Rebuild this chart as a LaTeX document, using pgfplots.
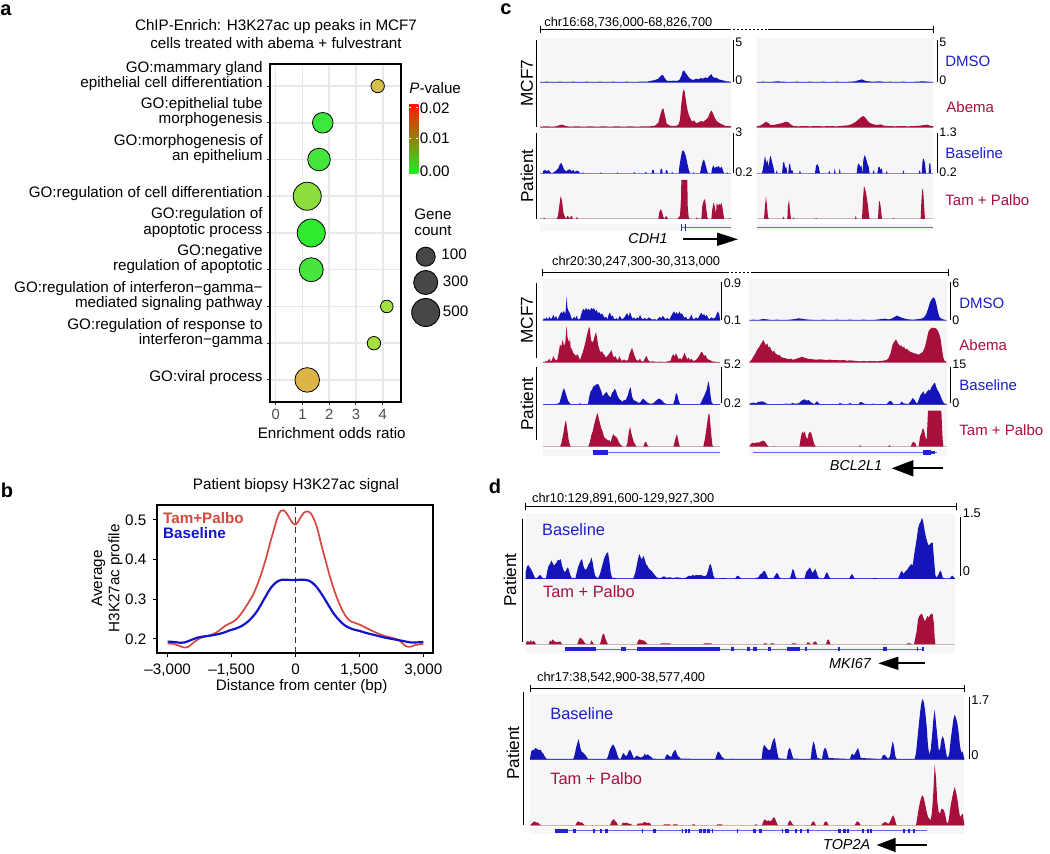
\documentclass[border=0pt]{standalone}
\usepackage{fontspec}
\setmainfont{Liberation Sans}
\usepackage{pgfplots}
\pgfplotsset{compat=1.18}
\usetikzlibrary{arrows.meta}
\definecolor{tblue}{RGB}{20,20,185}
\definecolor{tred}{RGB}{168,16,60}
\definecolor{trackbg}{RGB}{246,246,248}
\definecolor{gblue}{RGB}{35,35,210}
\definecolor{lblue}{RGB}{28,28,200}
\definecolor{bred}{RGB}{214,72,62}
\definecolor{bblue}{RGB}{20,20,205}
\definecolor{cmam}{RGB}{212,192,72}
\definecolor{ctube}{RGB}{60,232,60}
\definecolor{cmorph}{RGB}{68,230,60}
\definecolor{ccdiff}{RGB}{140,222,60}
\definecolor{capop}{RGB}{48,234,48}
\definecolor{cneg}{RGB}{70,230,60}
\definecolor{cifnm}{RGB}{160,226,60}
\definecolor{cresp}{RGB}{165,224,62}
\definecolor{cviral}{RGB}{220,180,72}
\newcommand{\fs}[1]{\fontsize{#1}{#1}\selectfont}
\pgfplotsset{
 trk/.style={anchor=north west, scale only axis, ymin=0, axis line style={draw=none}, xtick=\empty, ytick=\empty, axis background/.style={fill=trackbg}, clip=true},
 gene/.style={anchor=north west, scale only axis, ymin=-1, ymax=1, axis line style={draw=none}, xtick=\empty, ytick=\empty, axis background/.style={fill=trackbg}, clip=false, unbounded coords=jump},
 bfill/.style={fill=tblue, draw=none},
 rfill/.style={fill=tred, draw=none},
 bub/.style={only marks, mark=*, mark size=#1, mark options={draw=black!75, line width=0.45pt}},
}
\begin{document}
\begin{tikzpicture}
\useasboundingbox (0,0) rectangle (525pt,-427pt);

% ================= Panel a =================
\begin{axis}[at={(135pt,-32pt)}, anchor=north west, scale only axis, width=65.5pt, height=169pt,
 xmin=-0.21, xmax=4.68, ymin=0.4, ymax=9.6,
 xtick={0,1,2,3,4}, xticklabels={0,1,2,3,4},
 ytick={1,2,3,4,5,6,7,8,9},
 yticklabels={{GO:viral process},{GO:regulation of response to\\interferon−gamma},{GO:regulation of interferon−gamma−\\mediated signaling pathway},{GO:negative\\regulation of apoptotic},{GO:regulation of\\apoptotic process},{GO:regulation of cell differentiation},{GO:morphogenesis of\\an epithelium},{GO:epithelial tube\\morphogenesis},{GO:mammary gland\\epithelial cell differentiation}},
 grid=major, major grid style={draw=black!9, line width=0.75pt},
 axis line style={line width=1pt},
 tick pos=left, tick align=outside, major tick length=1.5pt, tick style={black!80, line width=0.5pt},
 xticklabel style={font=\fs{7.4pt}, text=black!70, yshift=1.6pt},
 yticklabel style={font=\fs{7.6pt}, align=right, anchor=south east, inner sep=0pt, text depth=1.6pt, yshift=-2.4pt, xshift=-2pt},
]
\addplot[bub=6.15pt, mark options={fill=cviral}] coordinates {(1.18,1)};
\addplot[bub=3.35pt, mark options={fill=cresp}] coordinates {(3.67,2)};
\addplot[bub=3.15pt, mark options={fill=cifnm}] coordinates {(4.15,3)};
\addplot[bub=6pt, mark options={fill=cneg}] coordinates {(1.33,4)};
\addplot[bub=7pt, mark options={fill=capop}] coordinates {(1.33,5)};
\addplot[bub=7pt, mark options={fill=ccdiff}] coordinates {(1.18,6)};
\addplot[bub=5.65pt, mark options={fill=cmorph}] coordinates {(1.62,7)};
\addplot[bub=5.15pt, mark options={fill=ctube}] coordinates {(1.76,8)};
\addplot[bub=3.35pt, mark options={fill=cmam}] coordinates {(3.81,9)};
\end{axis}

% ================= Panel b =================
\begin{axis}[at={(78.65pt,-252.35pt)}, anchor=north west, scale only axis, width=138pt, height=74pt,
 xmin=-3244, xmax=3235, ymin=0.165, ymax=0.538,
 xtick={-3000,-1500,0,1500,3000}, xticklabels={{–3,000},{–1,500},{0},{1,500},{3,000}},
 ytick={0.2,0.3,0.4,0.5}, yticklabels={0.2,0.3,0.4,0.5},
 axis line style={line width=1pt},
 tick pos=left, tick align=outside, major tick length=2pt, tick style={black, line width=0.5pt},
 ticklabel style={font=\fs{7.6pt}},
]
\addplot[black!80, densely dashed, line width=0.4pt] coordinates {(0,0.165)(0,0.538)};
\addplot[bred, line width=0.85pt, smooth] coordinates {(-3000,0.188)(-2850,0.187)(-2700,0.181)(-2600,0.178)(-2500,0.181)(-2400,0.19)(-2250,0.201)(-2100,0.206)(-1950,0.211)(-1800,0.22)(-1650,0.233)(-1500,0.241)(-1400,0.248)(-1300,0.26)(-1200,0.275)(-1100,0.292)(-1000,0.31)(-900,0.335)(-800,0.365)(-700,0.4)(-600,0.44)(-500,0.478)(-420,0.507)(-350,0.522)(-280,0.524)(-200,0.515)(-120,0.5)(-50,0.49)(0,0.488)(60,0.495)(130,0.508)(200,0.518)(280,0.521)(360,0.516)(440,0.5)(520,0.475)(600,0.44)(700,0.4)(800,0.36)(900,0.325)(1000,0.296)(1100,0.272)(1200,0.254)(1300,0.244)(1400,0.24)(1500,0.236)(1650,0.228)(1800,0.22)(1950,0.213)(2100,0.207)(2250,0.203)(2400,0.198)(2500,0.19)(2600,0.181)(2700,0.18)(2800,0.184)(2900,0.186)(3000,0.187)};
\addplot[bblue, line width=1.1pt, smooth] coordinates {(-3000,0.193)(-2850,0.192)(-2700,0.19)(-2600,0.191)(-2450,0.197)(-2300,0.203)(-2150,0.206)(-2000,0.208)(-1850,0.211)(-1700,0.215)(-1550,0.221)(-1400,0.226)(-1250,0.233)(-1100,0.245)(-1000,0.256)(-900,0.27)(-800,0.288)(-700,0.307)(-600,0.325)(-500,0.338)(-400,0.346)(-300,0.349)(-200,0.349)(-100,0.348)(0,0.348)(100,0.349)(200,0.349)(300,0.347)(400,0.341)(500,0.33)(600,0.315)(700,0.298)(800,0.28)(900,0.263)(1000,0.25)(1100,0.239)(1200,0.231)(1350,0.224)(1500,0.22)(1650,0.215)(1800,0.211)(1950,0.207)(2100,0.203)(2250,0.2)(2400,0.197)(2550,0.194)(2700,0.191)(2850,0.191)(3000,0.192)};
\node[anchor=north west, font=\fs{7.6pt}\bfseries, text=bred, inner sep=0pt] at (rel axis cs:0.02,0.95) {Tam+Palbo};
\node[anchor=north west, font=\fs{7.6pt}\bfseries, text=bblue, inner sep=0pt] at (rel axis cs:0.02,0.85) {Baseline};
\end{axis}

% ================= Panel c top tracks =================
\begin{axis}[trk, at={(270pt,-19.17pt)}, width=95.5pt, height=22.17pt, xmin=60, xmax=633, ymax=133]
\addplot[bfill] coordinates {(60,2)(80,3)(100,2)(120,3)(140,2)(160,3)(180,2)(200,3)(220,2)(240,3)(260,2)(280,3)(300,2)(320,3)(340,2)(360,3)(380,3)(395,6)(405,8)(415,12)(422,20)(428,24)(434,14)(440,6)(450,5)(460,6)(470,5)(478,8)(484,20)(488,34)(492,37)(496,30)(502,22)(508,14)(514,10)(520,8)(528,12)(536,10)(542,14)(548,12)(556,16)(562,13)(568,20)(574,26)(578,18)(584,14)(590,15)(596,10)(604,8)(612,6)(620,4)(633,3)} \closedcycle;
\end{axis}
\begin{axis}[trk, at={(270pt,-41.67pt)}, width=95.5pt, height=22.17pt, xmin=60, xmax=633, ymax=133]
\addplot[rfill] coordinates {(60,3)(80,4)(100,3)(112,5)(120,8)(128,9)(136,5)(150,3)(170,4)(190,3)(210,4)(230,3)(250,4)(270,3)(290,4)(310,3)(330,4)(350,3)(370,4)(390,4)(405,6)(415,15)(420,35)(426,55)(430,58)(434,40)(440,12)(450,6)(460,5)(470,6)(476,10)(480,25)(484,70)(488,105)(491,115)(494,108)(498,80)(502,55)(506,40)(510,30)(516,18)(522,22)(528,14)(536,16)(542,20)(550,18)(558,24)(564,30)(570,45)(574,52)(578,45)(584,30)(590,20)(598,14)(606,10)(614,6)(622,5)(633,4)} \closedcycle;
\end{axis}
\begin{axis}[trk, at={(270pt,-64.5pt)}, width=95.5pt, height=22.17pt, xmin=60, xmax=633, ymax=133]
\addplot[tblue!45, line width=0.5pt] coordinates {(60,0)(633,0)};
\addplot[bfill] coordinates {(60,0)(68,0)(70,8)(76,10)(80,6)(86,10)(90,4)(96,0)(108,8)(114,14)(120,28)(124,31)(128,22)(132,12)(138,6)(144,10)(150,12)(154,6)(160,10)(164,4)(170,8)(176,6)(180,0)(190,2)(195,0)(240,0)(242,3)(246,0)(290,0)(292,3)(296,0)(340,0)(342,4)(346,0)(375,0)(377,5)(381,0)(395,0)(397,10)(401,10)(403,0)(420,0)(422,12)(426,14)(428,0)(436,0)(438,10)(442,8)(444,0)(454,0)(456,4)(460,0)(476,0)(478,20)(482,45)(486,66)(490,69)(494,62)(498,50)(502,30)(506,12)(510,0)(518,0)(520,3)(524,0)(540,0)(544,20)(548,36)(552,42)(556,28)(560,12)(564,0)(574,0)(576,14)(580,24)(584,15)(588,20)(592,18)(596,22)(600,15)(604,20)(608,12)(612,0)(620,0)(622,3)(626,0)(633,0)} \closedcycle;
\end{axis}
\begin{axis}[trk, at={(270pt,-87.33pt)}, width=95.5pt, height=22.17pt, xmin=60, xmax=633, ymax=133]
\addplot[black!20, line width=0.5pt] coordinates {(60,0)(633,0)};
\addplot[rfill] coordinates {(60,0)(70,0)(72,4)(76,0)(110,0)(114,10)(118,40)(122,69)(126,55)(130,20)(134,8)(138,0)(142,10)(146,6)(150,0)(152,8)(156,10)(158,0)(168,0)(170,6)(174,0)(415,0)(418,20)(422,30)(426,22)(430,6)(434,0)(438,10)(442,4)(444,0)(470,0)(474,2)(480,10)(483,60)(484,117)(502,117)(503,40)(506,5)(510,0)(528,0)(530,5)(534,0)(544,0)(547,40)(551,55)(555,60)(559,30)(562,5)(565,0)(574,0)(577,30)(581,50)(585,35)(588,15)(590,48)(594,40)(598,45)(602,42)(605,48)(608,30)(611,10)(613,0)(628,0)(630,3)(633,0)} \closedcycle;
\end{axis}
% right half
\begin{axis}[trk, at={(378.33pt,-19.17pt)}, width=88.33pt, height=22.17pt, xmin=710, xmax=1240, ymax=133]
\addplot[bfill] coordinates {(710,2)(730,3)(750,2)(770,4)(790,3)(810,2)(830,3)(850,2)(870,3)(890,2)(910,3)(930,2)(950,3)(970,2)(990,3)(1005,4)(1015,7)(1025,10)(1035,6)(1045,4)(1060,3)(1080,4)(1095,2)(1110,3)(1130,2)(1150,3)(1170,2)(1190,3)(1210,4)(1225,3)(1240,2)} \closedcycle;
\end{axis}
\begin{axis}[trk, at={(378.33pt,-41.67pt)}, width=88.33pt, height=22.17pt, xmin=710, xmax=1240, ymax=133]
\addplot[rfill] coordinates {(710,4)(720,6)(730,12)(738,18)(745,14)(752,8)(760,8)(770,10)(780,12)(790,15)(798,18)(805,16)(812,10)(820,5)(835,4)(850,5)(870,4)(890,5)(910,4)(930,5)(950,4)(970,6)(985,7)(998,12)(1008,18)(1016,25)(1024,32)(1030,35)(1036,30)(1042,22)(1050,14)(1060,10)(1072,8)(1082,10)(1092,6)(1105,5)(1125,4)(1145,5)(1165,4)(1185,5)(1200,6)(1212,8)(1222,9)(1230,6)(1240,4)} \closedcycle;
\end{axis}
\begin{axis}[trk, at={(378.33pt,-64.5pt)}, width=88.33pt, height=22.17pt, xmin=710, xmax=1240, ymax=133]
\addplot[tblue!45, line width=0.5pt] coordinates {(710,0)(1240,0)};
\addplot[bfill] coordinates {(710,0)(726,0)(730,20)(735,53)(739,30)(742,40)(746,20)(749,45)(752,53)(756,35)(760,20)(764,0)(768,0)(770,10)(773,0)(786,0)(789,30)(792,35)(796,15)(799,20)(802,0)(805,0)(807,25)(810,30)(813,8)(817,10)(820,0)(837,0)(840,8)(843,0)(885,0)(888,22)(892,28)(896,20)(900,0)(925,0)(928,8)(931,0)(942,0)(944,15)(947,0)(957,0)(959,15)(962,0)(1010,0)(1013,25)(1017,30)(1021,18)(1024,25)(1028,0)(1030,40)(1034,55)(1038,45)(1042,30)(1046,20)(1049,0)(1058,0)(1061,10)(1064,0)(1072,0)(1075,18)(1078,20)(1082,10)(1085,15)(1088,0)(1098,0)(1100,8)(1103,0)(1148,0)(1150,10)(1153,0)(1196,0)(1199,10)(1202,0)(1205,0)(1208,40)(1211,45)(1215,30)(1218,0)(1226,0)(1228,30)(1231,30)(1233,0)(1240,0)} \closedcycle;
\end{axis}
\begin{axis}[trk, at={(378.33pt,-87.33pt)}, width=88.33pt, height=22.17pt, xmin=710, xmax=1240, ymax=133]
\addplot[black!20, line width=0.5pt] coordinates {(710,0)(1240,0)};
\addplot[rfill] coordinates {(710,0)(732,0)(735,40)(738,67)(741,40)(744,5)(747,0)(788,0)(790,8)(793,0)(802,0)(804,40)(807,58)(810,25)(813,0)(818,0)(820,5)(823,0)(886,0)(888,3)(892,0)(1005,0)(1007,10)(1010,0)(1026,0)(1029,60)(1032,100)(1035,90)(1038,80)(1041,60)(1044,40)(1047,10)(1049,0)(1074,0)(1077,55)(1080,50)(1083,30)(1086,0)(1118,0)(1120,3)(1123,0)(1202,0)(1204,50)(1207,92)(1210,80)(1213,30)(1215,0)(1240,0)} \closedcycle;
\end{axis}
% gene rows c top
\begin{axis}[gene, at={(270pt,-112.1pt)}, width=95.5pt, height=3.5pt, xmin=60, xmax=633]
\addplot[gblue!70, line width=0.5pt] coordinates {(485,0)(633,0)};
\addplot[gblue, line width=3.3pt] coordinates {(483,0)(486,0)(nan,nan)(494,0)(497,0)};
\end{axis}
\begin{axis}[gene, at={(378.33pt,-112.1pt)}, width=88.33pt, height=3.5pt, xmin=710, xmax=1240]
\addplot[gblue!70, line width=0.5pt] coordinates {(710,0)(1240,0)};
\end{axis}

% ================= Panel c bottom tracks =================
\begin{axis}[trk, at={(271.33pt,-139.67pt)}, width=88.67pt, height=20.67pt, xmin=68, xmax=600, ymax=124]
\addplot[bfill] coordinates {(68,0)(72,8)(76,4)(80,10)(84,3)(88,12)(92,5)(96,8)(100,18)(104,6)(108,15)(112,3)(116,10)(120,20)(124,26)(128,22)(132,30)(136,18)(138,45)(140,72)(142,40)(146,28)(150,22)(154,8)(158,4)(162,12)(166,6)(170,15)(174,4)(180,5)(186,28)(190,35)(194,30)(198,38)(202,32)(206,36)(210,30)(214,38)(218,34)(222,38)(226,28)(230,32)(234,22)(238,26)(242,18)(246,22)(250,15)(254,8)(258,12)(262,4)(266,18)(270,25)(274,12)(278,16)(282,6)(286,4)(290,8)(294,2)(298,14)(302,10)(306,4)(312,8)(318,18)(322,22)(326,12)(330,26)(334,14)(338,6)(342,10)(346,4)(352,10)(356,6)(360,18)(364,8)(368,4)(374,8)(380,4)(386,10)(392,6)(398,3)(404,5)(410,2)(416,8)(420,12)(424,6)(428,15)(432,10)(436,4)(442,8)(448,3)(454,15)(458,22)(462,28)(466,20)(470,26)(474,18)(478,28)(482,20)(486,22)(490,14)(494,8)(498,12)(502,4)(508,6)(514,18)(518,8)(522,4)(528,10)(534,6)(540,18)(544,24)(548,16)(552,20)(556,12)(560,18)(564,8)(568,4)(574,10)(580,6)(586,10)(590,20)(594,28)(598,18)(600,4)} \closedcycle;
\end{axis}
\begin{axis}[trk, at={(271.33pt,-160.67pt)}, width=88.67pt, height=20.67pt, xmin=68, xmax=600, ymax=124]
\addplot[rfill] coordinates {(68,2)(76,3)(84,6)(88,12)(92,4)(96,8)(100,20)(104,12)(108,6)(112,10)(116,30)(120,55)(124,48)(128,70)(132,50)(136,62)(138,90)(140,110)(142,80)(144,70)(148,60)(150,72)(152,45)(156,40)(160,28)(164,25)(168,20)(172,26)(176,18)(180,8)(184,20)(188,30)(192,45)(196,60)(200,80)(204,95)(207,108)(210,100)(213,70)(216,60)(220,65)(224,80)(228,92)(231,75)(234,55)(238,40)(242,30)(246,35)(250,26)(254,22)(258,15)(262,20)(266,25)(270,30)(274,38)(278,25)(282,15)(286,20)(290,12)(294,8)(298,20)(302,10)(306,5)(312,10)(318,6)(324,8)(328,25)(332,35)(336,45)(340,32)(344,20)(348,10)(354,5)(360,12)(364,5)(370,3)(376,15)(380,20)(384,8)(390,3)(400,4)(410,2)(420,3)(430,2)(440,3)(452,6)(456,20)(460,25)(464,18)(468,28)(472,20)(476,10)(480,14)(484,8)(490,20)(494,30)(498,18)(502,10)(506,15)(510,8)(514,12)(520,5)(528,8)(536,18)(540,25)(544,32)(548,30)(552,20)(556,24)(560,15)(564,10)(570,8)(576,4)(584,3)(592,2)(600,2)} \closedcycle;
\end{axis}
\begin{axis}[trk, at={(271.33pt,-181.67pt)}, width=88.67pt, height=20.67pt, xmin=68, xmax=600, ymax=124]
\addplot[tblue!45, line width=0.5pt] coordinates {(68,0)(600,0)};
\addplot[bfill] coordinates {(68,0)(72,2)(90,2)(110,2)(118,5)(124,25)(128,40)(132,50)(136,38)(140,25)(144,12)(148,6)(152,2)(176,2)(180,4)(184,2)(204,2)(208,25)(212,40)(216,45)(220,55)(226,58)(232,62)(236,60)(240,50)(244,40)(248,25)(252,30)(256,35)(260,38)(264,30)(268,25)(272,22)(276,35)(280,40)(284,48)(288,42)(292,28)(296,20)(300,15)(304,12)(308,8)(312,15)(316,12)(320,20)(324,30)(328,45)(332,52)(336,25)(340,15)(344,12)(348,10)(352,8)(356,5)(362,8)(366,15)(370,18)(374,14)(378,10)(384,5)(392,3)(400,4)(404,8)(408,12)(412,15)(416,18)(420,17)(424,14)(428,10)(432,5)(440,2)(460,2)(464,15)(468,35)(472,30)(476,12)(480,2)(520,2)(540,2)(544,8)(548,18)(552,25)(556,35)(560,45)(564,65)(566,70)(569,50)(572,25)(575,6)(580,2)(600,2)} \closedcycle;
\end{axis}
\begin{axis}[trk, at={(271.33pt,-202.67pt)}, width=88.67pt, height=20.67pt, xmin=68, xmax=600, ymax=124]
\addplot[black!20, line width=0.5pt] coordinates {(68,0)(600,0)};
\addplot[rfill] coordinates {(68,0)(120,0)(124,10)(130,40)(134,65)(138,80)(142,50)(146,20)(150,4)(154,0)(205,0)(210,15)(214,35)(218,45)(222,65)(226,80)(230,95)(233,100)(236,85)(240,70)(244,55)(248,45)(252,30)(256,25)(260,22)(264,18)(268,20)(272,12)(276,28)(280,38)(284,32)(288,30)(292,25)(296,15)(300,8)(304,4)(310,0)(318,0)(322,10)(326,40)(330,60)(334,40)(338,25)(342,12)(346,6)(350,0)(370,0)(374,12)(378,15)(382,5)(386,0)(460,0)(464,15)(468,30)(471,38)(474,22)(478,5)(480,0)(550,0)(555,25)(560,60)(565,95)(568,100)(571,70)(574,35)(577,5)(580,0)(600,0)} \closedcycle;
\end{axis}
% right half
\begin{axis}[trk, at={(374.67pt,-139.67pt)}, width=98.67pt, height=20.67pt, xmin=688, xmax=1280, ymax=124]
\addplot[bfill] coordinates {(688,2)(700,3)(715,2)(728,5)(740,4)(755,2)(770,3)(790,2)(810,3)(825,5)(835,7)(845,6)(855,4)(870,3)(890,2)(910,3)(930,2)(950,3)(970,2)(990,3)(1010,2)(1030,3)(1050,2)(1070,3)(1085,5)(1095,6)(1105,4)(1115,6)(1122,10)(1130,15)(1138,12)(1146,8)(1155,6)(1165,4)(1180,3)(1195,5)(1205,6)(1212,10)(1218,18)(1224,35)(1230,55)(1236,66)(1242,70)(1246,62)(1250,45)(1254,25)(1258,12)(1264,6)(1272,3)(1280,2)} \closedcycle;
\end{axis}
\begin{axis}[trk, at={(374.67pt,-160.67pt)}, width=98.67pt, height=20.67pt, xmin=688, xmax=1280, ymax=124]
\addplot[rfill] coordinates {(688,2)(694,8)(700,18)(706,28)(712,40)(718,48)(724,58)(730,68)(734,60)(738,52)(742,58)(746,45)(750,48)(754,38)(758,32)(762,36)(766,28)(770,26)(774,22)(778,24)(782,18)(788,15)(794,14)(800,12)(806,10)(812,12)(818,9)(824,10)(830,12)(836,14)(842,16)(846,18)(850,16)(856,14)(862,12)(870,11)(880,10)(890,9)(900,10)(910,9)(920,8)(930,9)(940,8)(950,8)(960,7)(970,8)(980,6)(990,7)(1000,6)(1010,5)(1020,4)(1030,5)(1040,4)(1050,5)(1060,5)(1070,4)(1080,5)(1090,6)(1100,8)(1106,14)(1112,30)(1118,55)(1124,65)(1128,70)(1132,62)(1136,55)(1140,50)(1144,52)(1148,45)(1152,48)(1156,40)(1160,42)(1166,36)(1172,32)(1178,30)(1184,28)(1190,26)(1196,24)(1202,28)(1208,32)(1214,45)(1218,60)(1222,80)(1226,95)(1230,100)(1236,105)(1242,104)(1248,103)(1254,95)(1258,85)(1262,70)(1266,40)(1270,15)(1274,5)(1280,2)} \closedcycle;
\end{axis}
\begin{axis}[trk, at={(374.67pt,-181.67pt)}, width=98.67pt, height=20.67pt, xmin=688, xmax=1280, ymax=124]
\addplot[tblue!45, line width=0.5pt] coordinates {(688,0)(1280,0)};
\addplot[bfill] coordinates {(688,2)(694,5)(700,6)(708,4)(714,8)(720,9)(726,10)(732,8)(738,4)(744,2)(790,2)(798,3)(810,2)(818,5)(824,3)(836,4)(842,10)(848,14)(854,16)(860,12)(866,14)(872,8)(878,4)(884,2)(888,8)(892,10)(896,4)(900,2)(955,2)(960,5)(966,2)(985,2)(990,5)(995,2)(1016,2)(1020,8)(1026,7)(1032,3)(1040,2)(1055,2)(1060,3)(1065,2)(1100,2)(1106,8)(1110,12)(1116,8)(1120,2)(1140,2)(1145,10)(1150,4)(1165,2)(1172,10)(1178,20)(1184,14)(1188,6)(1192,4)(1198,20)(1202,30)(1206,34)(1210,40)(1214,30)(1218,35)(1222,40)(1226,45)(1230,42)(1234,52)(1238,58)(1242,64)(1245,66)(1248,55)(1252,45)(1256,38)(1260,30)(1264,20)(1268,10)(1272,4)(1280,2)} \closedcycle;
\end{axis}
\begin{axis}[trk, at={(374.67pt,-202.67pt)}, width=98.67pt, height=20.67pt, xmin=688, xmax=1280, ymax=124]
\addplot[black!20, line width=0.5pt] coordinates {(688,0)(1280,0)};
\addplot[rfill] coordinates {(688,0)(692,8)(698,12)(704,10)(710,13)(716,12)(722,15)(728,18)(734,16)(738,10)(742,4)(746,0)(760,0)(763,3)(766,0)(838,0)(842,25)(846,45)(850,40)(854,46)(858,30)(862,22)(866,40)(870,45)(874,40)(878,25)(882,10)(886,2)(890,0)(1018,0)(1020,5)(1024,0)(1105,0)(1108,5)(1112,0)(1172,0)(1176,10)(1180,15)(1186,10)(1190,0)(1196,0)(1200,30)(1204,40)(1208,55)(1212,50)(1216,30)(1220,20)(1224,108)(1264,108)(1266,60)(1268,20)(1270,0)(1280,0)} \closedcycle;
\end{axis}
% gene rows c bottom
\begin{axis}[gene, at={(271.33pt,-224.6pt)}, width=88.67pt, height=3.5pt, xmin=68, xmax=600]
\addplot[gblue!70, line width=0.5pt] coordinates {(265,0)(600,0)};
\addplot[gblue, line width=2.6pt] coordinates {(220,0)(265,0)};
\end{axis}
\begin{axis}[gene, at={(374.67pt,-224.6pt)}, width=98.67pt, height=3.5pt, xmin=688, xmax=1280]
\addplot[gblue!70, line width=0.5pt] coordinates {(698,0)(1250,0)};
\addplot[gblue, line width=2.8pt] coordinates {(1208,0)(1232,0)};
\addplot[gblue, line width=1.6pt] coordinates {(1232,0)(1245,0)};
\end{axis}

% ================= Panel d top =================
\begin{axis}[trk, at={(262.83pt,-256.83pt)}, width=214.67pt, height=32.67pt, xmin=107, xmax=1395, ymax=196]
\addplot[tblue!45, line width=0.5pt] coordinates {(107,0)(1395,0)};
\addplot[bfill] coordinates {(107,20)(111,38)(115,42)(119,35)(123,30)(127,22)(131,12)(135,3)(140,2)(146,8)(150,12)(154,8)(158,2)(168,2)(172,25)(176,40)(180,45)(184,55)(188,48)(192,40)(196,45)(200,50)(204,58)(208,55)(212,60)(216,40)(220,28)(224,20)(228,25)(232,35)(236,30)(240,15)(244,4)(256,2)(260,18)(264,35)(268,45)(272,55)(276,60)(280,40)(284,30)(288,28)(292,35)(296,45)(300,50)(304,65)(308,50)(312,25)(316,8)(324,2)(330,15)(334,30)(338,45)(342,60)(346,70)(350,78)(354,80)(358,55)(362,20)(366,4)(380,2)(430,2)(436,20)(440,40)(444,60)(448,75)(452,65)(456,58)(460,70)(464,60)(468,45)(472,40)(476,32)(480,28)(484,25)(488,20)(492,15)(496,10)(500,5)(510,2)(516,5)(522,8)(528,4)(540,5)(550,3)(560,5)(570,4)(580,2)(590,5)(596,10)(602,8)(608,12)(614,10)(620,12)(626,11)(632,12)(638,10)(644,8)(650,12)(654,25)(658,40)(662,45)(666,30)(670,10)(674,2)(690,2)(700,3)(710,2)(736,2)(740,8)(744,10)(748,6)(752,2)(795,2)(800,3)(806,6)(810,14)(814,15)(818,20)(822,25)(826,22)(830,12)(834,3)(850,2)(855,10)(860,18)(864,15)(868,5)(872,2)(900,2)(904,15)(908,30)(912,25)(916,8)(920,2)(944,2)(948,20)(952,25)(956,30)(960,35)(964,25)(968,18)(972,25)(976,30)(980,20)(984,6)(988,2)(1002,2)(1006,12)(1010,20)(1014,15)(1018,5)(1022,2)(1078,2)(1082,10)(1086,15)(1090,8)(1094,2)(1150,2)(1155,3)(1160,2)(1224,2)(1228,10)(1232,20)(1236,25)(1240,15)(1244,20)(1248,25)(1252,28)(1256,35)(1260,40)(1264,45)(1268,40)(1272,70)(1276,95)(1280,120)(1284,150)(1288,165)(1292,172)(1296,184)(1300,170)(1304,145)(1308,125)(1312,110)(1316,100)(1320,105)(1324,108)(1328,110)(1332,60)(1336,12)(1340,4)(1346,15)(1350,25)(1354,20)(1358,5)(1362,2)(1380,2)(1384,8)(1388,10)(1392,4)(1395,2)} \closedcycle;
\end{axis}
\begin{axis}[trk, at={(262.83pt,-289.5pt)}, width=214.67pt, height=32.67pt, xmin=107, xmax=1395, ymax=196]
\addplot[black!20, line width=0.5pt] coordinates {(107,0)(1395,0)};
\addplot[rfill] coordinates {(107,0)(110,8)(114,10)(118,6)(122,12)(126,6)(130,10)(134,8)(138,0)(176,0)(180,12)(184,8)(188,15)(192,10)(196,8)(200,6)(204,8)(208,8)(212,8)(216,0)(262,0)(266,12)(270,20)(274,18)(278,14)(282,8)(286,2)(300,0)(304,12)(308,6)(312,0)(330,0)(334,15)(338,30)(342,32)(346,18)(350,8)(354,0)(440,0)(444,10)(448,15)(452,14)(456,12)(460,12)(464,10)(468,6)(472,0)(510,0)(514,3)(540,3)(544,0)(640,0)(642,3)(664,3)(666,0)(820,0)(822,3)(830,3)(832,0)(840,0)(842,3)(852,3)(854,0)(905,0)(907,3)(918,3)(920,0)(950,0)(952,6)(958,5)(962,0)(968,0)(972,8)(978,8)(982,0)(1008,0)(1012,12)(1016,15)(1020,5)(1022,0)(1250,0)(1252,3)(1262,3)(1264,0)(1272,0)(1276,20)(1280,40)(1284,75)(1288,85)(1292,90)(1296,92)(1300,80)(1304,70)(1308,75)(1312,85)(1316,80)(1320,88)(1324,92)(1328,90)(1332,60)(1334,20)(1336,0)(1395,0)} \closedcycle;
\end{axis}
\begin{axis}[gene, at={(262.83pt,-322.9pt)}, width=214.67pt, height=3.5pt, xmin=107, xmax=1395]
\addplot[gblue!70, line width=0.5pt] coordinates {(225,0)(1302,0)};
\addplot[gblue, line width=2.2pt] coordinates {(225,0)(318,0)(nan,nan)(393,0)(408,0)(nan,nan)(440,0)(690,0)(nan,nan)(722,0)(732,0)(nan,nan)(770,0)(780,0)(nan,nan)(790,0)(800,0)(nan,nan)(835,0)(842,0)(nan,nan)(890,0)(930,0)(nan,nan)(945,0)(950,0)(nan,nan)(1045,0)(1050,0)(nan,nan)(1180,0)(1190,0)(nan,nan)(1280,0)(1285,0)(nan,nan)(1297,0)(1302,0)};
\end{axis}

% ================= Panel d bottom =================
\begin{axis}[trk, at={(265pt,-347pt)}, width=217.17pt, height=32.83pt, xmin=120, xmax=1423, ymax=197]
\addplot[tblue!45, line width=0.5pt] coordinates {(120,0)(1423,0)};
\addplot[bfill] coordinates {(120,5)(124,25)(128,30)(132,28)(136,35)(140,33)(144,30)(148,28)(152,30)(156,22)(160,18)(164,10)(168,4)(172,2)(250,2)(254,15)(258,35)(262,50)(266,62)(270,40)(274,25)(278,22)(282,18)(286,14)(290,8)(294,2)(350,2)(354,10)(358,25)(362,35)(366,42)(370,45)(374,38)(378,28)(382,15)(386,4)(392,2)(396,12)(400,20)(404,15)(408,10)(412,15)(416,25)(420,30)(424,22)(428,12)(432,4)(436,8)(440,12)(444,10)(448,8)(452,6)(456,8)(460,10)(464,18)(468,12)(472,16)(476,14)(480,10)(484,8)(488,3)(524,2)(528,12)(532,16)(536,12)(540,10)(544,8)(548,20)(552,25)(556,30)(560,20)(564,10)(568,8)(572,3)(676,2)(680,15)(684,25)(688,22)(692,15)(696,8)(700,5)(704,2)(720,2)(724,3)(730,2)(815,2)(818,30)(822,45)(826,40)(830,35)(834,30)(838,28)(842,32)(846,50)(850,60)(854,65)(858,45)(862,20)(866,4)(890,2)(894,25)(898,35)(902,30)(906,15)(910,3)(962,2)(966,35)(970,55)(974,45)(978,25)(982,5)(996,2)(1000,25)(1004,35)(1008,33)(1012,20)(1016,5)(1080,2)(1084,15)(1088,18)(1092,12)(1096,20)(1100,28)(1104,35)(1108,22)(1112,5)(1174,2)(1178,12)(1182,15)(1186,12)(1190,8)(1194,2)(1200,10)(1204,35)(1208,55)(1212,40)(1216,10)(1220,2)(1274,2)(1278,20)(1282,60)(1286,100)(1290,140)(1294,170)(1298,183)(1302,170)(1306,140)(1310,100)(1314,40)(1318,15)(1322,30)(1326,70)(1330,120)(1334,150)(1338,110)(1342,70)(1346,30)(1350,30)(1354,60)(1358,70)(1362,60)(1366,35)(1370,12)(1374,5)(1378,20)(1382,60)(1386,90)(1390,120)(1394,135)(1398,125)(1402,110)(1406,80)(1410,40)(1414,20)(1418,25)(1421,10)(1423,3)} \closedcycle;
\end{axis}
\begin{axis}[trk, at={(265pt,-379.83pt)}, width=217.17pt, height=32.83pt, xmin=120, xmax=1423, ymax=197]
\addplot[black!20, line width=0.5pt] coordinates {(120,0)(1423,0)};
\addplot[rfill] coordinates {(120,0)(126,6)(130,10)(134,12)(138,8)(142,9)(146,6)(150,2)(156,0)(256,0)(260,8)(264,12)(268,10)(272,8)(276,9)(280,4)(284,0)(360,0)(364,10)(368,16)(372,18)(376,12)(380,8)(384,0)(394,0)(398,8)(402,7)(406,6)(410,8)(414,6)(418,4)(422,5)(426,0)(440,0)(444,6)(448,5)(452,6)(456,5)(460,8)(464,10)(468,8)(472,7)(476,8)(480,6)(484,0)(520,0)(522,3)(540,3)(542,0)(548,0)(550,3)(562,3)(564,0)(606,0)(608,3)(614,3)(616,0)(680,0)(682,3)(696,3)(698,0)(795,0)(797,3)(800,3)(802,0)(816,0)(820,12)(824,18)(828,15)(832,12)(836,15)(840,12)(844,14)(848,20)(852,25)(856,18)(860,8)(864,0)(892,0)(896,10)(900,15)(904,10)(908,3)(912,0)(962,0)(966,8)(970,12)(974,8)(978,0)(1000,0)(1004,10)(1008,12)(1012,8)(1016,0)(1094,0)(1098,8)(1102,12)(1106,10)(1110,4)(1112,0)(1174,0)(1178,6)(1182,8)(1186,10)(1190,8)(1194,4)(1198,8)(1202,15)(1206,25)(1210,30)(1214,20)(1218,5)(1220,0)(1278,0)(1282,25)(1286,50)(1290,70)(1294,85)(1298,90)(1302,80)(1306,60)(1310,40)(1314,25)(1318,20)(1322,15)(1326,40)(1330,100)(1334,184)(1338,140)(1342,70)(1346,40)(1350,35)(1354,50)(1358,48)(1362,45)(1366,30)(1370,10)(1374,5)(1378,30)(1382,60)(1386,80)(1390,100)(1394,115)(1398,100)(1402,80)(1406,50)(1410,25)(1414,30)(1418,35)(1421,15)(1423,3)} \closedcycle;
\end{axis}
\begin{axis}[gene, at={(265pt,-413.75pt)}, width=217.17pt, height=3.5pt, xmin=120, xmax=1423]
\addplot[gblue!70, line width=0.5pt] coordinates {(195,0)(1310,0)};
\addplot[gblue, line width=2.2pt] coordinates {(195,0)(235,0)(nan,nan)(250,0)(258,0)(nan,nan)(310,0)(315,0)(nan,nan)(330,0)(336,0)(nan,nan)(345,0)(355,0)(nan,nan)(455,0)(460,0)(nan,nan)(490,0)(497,0)(nan,nan)(575,0)(580,0)(nan,nan)(585,0)(590,0)(nan,nan)(595,0)(600,0)(nan,nan)(628,0)(635,0)(nan,nan)(640,0)(648,0)(nan,nan)(652,0)(660,0)(nan,nan)(665,0)(670,0)(nan,nan)(740,0)(745,0)(nan,nan)(790,0)(797,0)(nan,nan)(808,0)(815,0)(nan,nan)(875,0)(880,0)(nan,nan)(885,0)(890,0)(nan,nan)(892,0)(897,0)(nan,nan)(915,0)(922,0)(nan,nan)(930,0)(936,0)(nan,nan)(950,0)(956,0)(nan,nan)(1045,0)(1052,0)(nan,nan)(1060,0)(1067,0)(nan,nan)(1072,0)(1077,0)(nan,nan)(1115,0)(1122,0)(nan,nan)(1130,0)(1137,0)(nan,nan)(1140,0)(1146,0)(nan,nan)(1240,0)(1245,0)(nan,nan)(1255,0)(1261,0)(nan,nan)(1270,0)(1275,0)};
\end{axis}

% ================= Annotations (pixel units) =================
\begin{scope}[x=0.5pt,y=-0.5pt]
% panel letters
\node[font=\fs{10pt}\bfseries] at (6,10) {a};
\node[font=\fs{10pt}\bfseries] at (7,490) {b};
\node[font=\fs{10pt}\bfseries] at (506,9) {c};
\node[font=\fs{10pt}\bfseries] at (495,486) {d};
% panel a title and legend
\node[font=\fontsize{7.6pt}{9pt}\selectfont, align=center] at (276,34) {ChIP-Enrich: H3K27ac up peaks in MCF7\\cells treated with abema + fulvestrant};
\node[font=\fs{7.6pt}] at (331.7,432.7) {Enrichment odds ratio};
\node[anchor=west, font=\fs{7.6pt}, inner sep=0pt] at (409,88) {\textit{P}-value};
\shade[top color={rgb,255:red,255;green,25;blue,0}, middle color={rgb,255:red,200;green,172;blue,35}, bottom color={rgb,255:red,30;green,240;blue,30}] (409,105) rectangle (418.3,174);
\draw[white, line width=0.4pt] (409,138.3)--(411,138.3) (416.3,138.3)--(418.3,138.3) (409,107.5)--(411,107.5) (416.3,107.5)--(418.3,107.5);
\node[anchor=west, font=\fs{7.6pt}, inner sep=0pt] at (419.5,108.3) {0.02};
\node[anchor=west, font=\fs{7.6pt}, inner sep=0pt] at (419.5,138.5) {0.01};
\node[anchor=west, font=\fs{7.6pt}, inner sep=0pt] at (419.5,171.7) {0.00};
\node[anchor=west, font=\fontsize{7.6pt}{8pt}\selectfont, align=left, inner sep=0pt] at (414,222) {Gene\\count};
\fill[black!72, draw=black, line width=0.45pt] (425.7,256.7) circle[radius=4.75pt];
\fill[black!72, draw=black, line width=0.45pt] (425.7,282.5) circle[radius=6pt];
\fill[black!72, draw=black, line width=0.45pt] (425.7,312.5) circle[radius=7pt];
\node[anchor=west, font=\fs{7.6pt}, inner sep=0pt] at (441,254) {100};
\node[anchor=west, font=\fs{7.6pt}, inner sep=0pt] at (442.5,281.7) {300};
\node[anchor=west, font=\fs{7.6pt}, inner sep=0pt] at (442.5,311.7) {500};
% panel b labels
\node[font=\fs{7.6pt}] at (296,486) {Patient biopsy H3K27ac signal};
\node[font=\fs{7.6pt}] at (301.7,686.7) {Distance from center (bp)};
\node[rotate=90, align=center, font=\fontsize{7.6pt}{8.6pt}\selectfont] at (107,578.3) {Average\\H3K27ac profile};

% ---------- panel c top annotations ----------
\draw[line width=0.5pt] (540,30) -- (729,30);
\draw[line width=0.5pt, dash pattern=on 1pt off 1pt] (729,30) -- (768,30);
\draw[line width=0.5pt] (768,30) -- (933.3,30);
\draw[line width=0.5pt] (540,26.5)--(540,33.5) (933.3,26.5)--(933.3,33.5);
\node[anchor=base west, font=\fs{6.4pt}, inner sep=0pt] at (544,26.5) {chr16:68,736,000-68,826,700};
\draw[line width=0.5pt] (733.3,40)--(733.3,81.7) (937.3,40)--(937.3,81.7);
\draw[line width=0.5pt] (733.3,133)--(733.3,173.3) (937.3,133)--(937.3,173.3);
\node[anchor=west, font=\fs{6.2pt}, inner sep=0pt] at (735,42.7) {5};
\node[anchor=west, font=\fs{6.2pt}, inner sep=0pt] at (735,80) {0};
\node[anchor=west, font=\fs{6.2pt}, inner sep=0pt] at (939,42.7) {5};
\node[anchor=west, font=\fs{6.2pt}, inner sep=0pt] at (939,80) {0};
\node[anchor=west, font=\fs{6.2pt}, inner sep=0pt] at (735,132.7) {3};
\node[anchor=west, font=\fs{6.2pt}, inner sep=0pt] at (735,172.7) {0.2};
\node[anchor=west, font=\fs{6.2pt}, inner sep=0pt] at (939,132.7) {1.3};
\node[anchor=west, font=\fs{6.2pt}, inner sep=0pt] at (939,172.7) {0.2};
\node[anchor=west, font=\fs{7.5pt}, text=lblue, inner sep=0pt] at (945,61) {DMSO};
\node[anchor=west, font=\fs{7.5pt}, text=tred, inner sep=0pt] at (946,107.3) {Abema};
\node[anchor=west, font=\fs{7.5pt}, text=lblue, inner sep=0pt] at (945,152.7) {Baseline};
\node[anchor=west, font=\fs{7.5pt}, text=tred, inner sep=0pt] at (945,200.3) {Tam + Palbo};
\node[rotate=90, font=\fs{8.6pt}] at (527,83) {MCF7};
\node[rotate=90, font=\fs{8.6pt}] at (527,176) {Patient};
\draw[line width=0.6pt] (536.7,40)--(536.7,127) (536.7,133)--(536.7,219);
\node[font=\fs{7.2pt}\itshape] at (648,238.3) {CDH1};
\draw[line width=0.8pt, -{Triangle[length=10.5pt,width=6.5pt]}] (683,239.3) -- (738,239.3);

% ---------- panel c bottom annotations ----------
\draw[line width=0.5pt] (542.7,272.3) -- (726.7,272.3);
\draw[line width=0.5pt, dash pattern=on 1pt off 1pt] (726.7,272.3) -- (753.3,272.3);
\draw[line width=0.5pt] (753.3,272.3) -- (948.3,272.3);
\draw[line width=0.5pt] (542.7,268.8)--(542.7,275.8) (948.3,268.8)--(948.3,275.8);
\node[anchor=base west, font=\fs{6.4pt}, inner sep=0pt] at (551.7,265.8) {chr20:30,247,300-30,313,000};
\draw[line width=0.5pt] (721.7,282)--(721.7,320) (950,282)--(950,320);
\draw[line width=0.5pt] (721.7,366.7)--(721.7,403.3) (950,366.7)--(950,403.3);
\node[anchor=west, font=\fs{6.2pt}, inner sep=0pt] at (723.5,283.3) {0.9};
\node[anchor=west, font=\fs{6.2pt}, inner sep=0pt] at (723.5,320) {0.1};
\node[anchor=west, font=\fs{6.2pt}, inner sep=0pt] at (952,283.3) {6};
\node[anchor=west, font=\fs{6.2pt}, inner sep=0pt] at (952,320) {0};
\node[anchor=west, font=\fs{6.2pt}, inner sep=0pt] at (723.5,364.7) {5.2};
\node[anchor=west, font=\fs{6.2pt}, inner sep=0pt] at (723.5,403.3) {0.2};
\node[anchor=west, font=\fs{6.2pt}, inner sep=0pt] at (952,364.7) {15};
\node[anchor=west, font=\fs{6.2pt}, inner sep=0pt] at (952,403.3) {0};
\node[anchor=west, font=\fs{7.5pt}, text=lblue, inner sep=0pt] at (959,303.3) {DMSO};
\node[anchor=west, font=\fs{7.5pt}, text=tred, inner sep=0pt] at (959,345) {Abema};
\node[anchor=west, font=\fs{7.5pt}, text=lblue, inner sep=0pt] at (959,385) {Baseline};
\node[anchor=west, font=\fs{7.5pt}, text=tred, inner sep=0pt] at (959,430) {Tam + Palbo};
\node[rotate=90, font=\fs{8.6pt}] at (527,320) {MCF7};
\node[rotate=90, font=\fs{8.6pt}] at (527,404) {Patient};
\draw[line width=0.6pt] (536.7,283)--(536.7,358) (536.7,366.7)--(536.7,440);
\node[font=\fs{7.2pt}\itshape] at (856,466) {BCL2L1};
\draw[line width=0.8pt, -{Triangle[length=10.8pt,width=8pt]}] (943.3,468.3) -- (891.7,468.3);

% ---------- panel d top annotations ----------
\draw[line width=0.5pt] (525.7,506.7) -- (956,506.7);
\draw[line width=0.5pt] (525.7,503.2)--(525.7,510.2) (956,503.2)--(956,510.2);
\node[anchor=base west, font=\fs{6.4pt}, inner sep=0pt] at (531.7,502.5) {chr10:129,891,600-129,927,300};
\draw[line width=0.5pt] (960,516.7)--(960,576);
\node[anchor=west, font=\fs{6.4pt}, inner sep=0pt] at (962.5,512.7) {1.5};
\node[anchor=west, font=\fs{6.4pt}, inner sep=0pt] at (962.5,570.7) {0};
\node[anchor=west, font=\fs{8.2pt}, text=lblue, inner sep=0pt] at (541.7,530) {Baseline};
\node[anchor=west, font=\fs{8.2pt}, text=tred, inner sep=0pt] at (542.7,591.7) {Tam + Palbo};
\node[rotate=90, font=\fs{8.6pt}] at (510,580) {Patient};
\draw[line width=0.6pt] (522.7,519.3)--(522.7,641.7);
\node[font=\fs{7.2pt}\itshape] at (850,663.3) {MKI67};
\draw[line width=0.8pt, -{Triangle[length=10pt,width=6.5pt]}] (925,663.3) -- (878.3,663.3);

% ---------- panel d bottom annotations ----------
\draw[line width=0.5pt] (530,689) -- (964.3,689);
\draw[line width=0.5pt] (530,685.5)--(530,692.5) (964.3,685.5)--(964.3,692.5);
\node[anchor=base west, font=\fs{6.4pt}, inner sep=0pt] at (536.7,681.5) {chr17:38,542,900-38,577,400};
\draw[line width=0.5pt] (969,697)--(969,759);
\node[anchor=west, font=\fs{6.4pt}, inner sep=0pt] at (971,700) {1.7};
\node[anchor=west, font=\fs{6.4pt}, inner sep=0pt] at (971,755) {0};
\node[anchor=west, font=\fs{8.2pt}, text=lblue, inner sep=0pt] at (550,713.3) {Baseline};
\node[anchor=west, font=\fs{8.2pt}, text=tred, inner sep=0pt] at (550,778.3) {Tam + Palbo};
\node[rotate=90, font=\fs{8.6pt}] at (513,753) {Patient};
\draw[line width=0.6pt] (523.3,691.7)--(523.3,825);
\node[font=\fs{7.2pt}\itshape] at (846.7,845) {TOP2A};
\draw[line width=0.8pt, -{Triangle[length=9.5pt,width=7pt]}] (926.7,845) -- (876.7,845);
\end{scope}
\end{tikzpicture}
\end{document}
